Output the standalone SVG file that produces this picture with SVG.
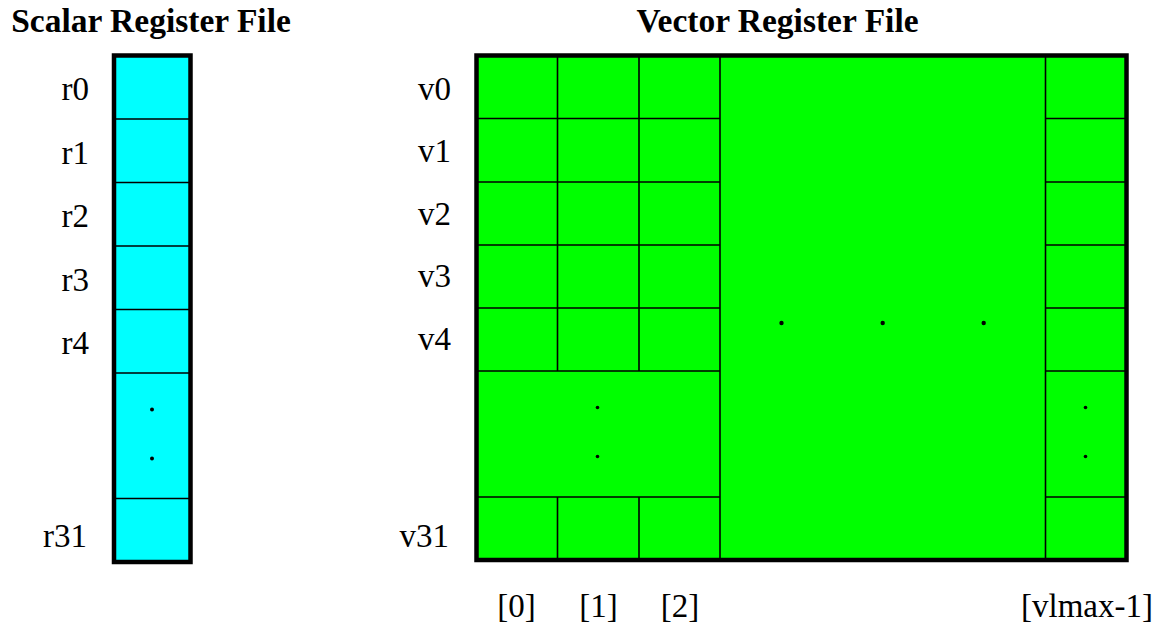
<svg xmlns="http://www.w3.org/2000/svg" width="1158" height="624" viewBox="0 0 1158 624">
<style>
.t{font-family:"Liberation Serif","Times New Roman",serif;font-size:33px;fill:#000}
.h{font-family:"Liberation Serif","Times New Roman",serif;font-size:33.5px;font-weight:bold;fill:#000}
.e{text-anchor:end}
.m{text-anchor:middle}
.thin{stroke:#000;stroke-width:1.6;fill:none}
.box{stroke:#000;stroke-width:4.5}
</style>
<rect width="1158" height="624" fill="#fff"/>
<text class="h m" x="151" y="32">Scalar Register File</text>
<text class="h m" x="777.5" y="32">Vector Register File</text>
<g id="scalar">
<rect class="box" x="114" y="55.5" width="76.5" height="506.5" fill="#00ffff"/>
<path class="thin" d="M114 119H190.5M114 182.5H190.5M114 246H190.5M114 309.5H190.5M114 373H190.5M114 498.5H190.5"/>
<circle cx="152" cy="409.5" r="2"/>
<circle cx="152" cy="458.5" r="2"/>
</g>
<g id="scalar-labels">
<text class="t e" x="89" y="100">r0</text>
<text class="t e" x="89" y="163.5">r1</text>
<text class="t e" x="89" y="227">r2</text>
<text class="t e" x="89" y="290.5">r3</text>
<text class="t e" x="89" y="354">r4</text>
<text class="t e" x="87" y="546.5">r31</text>
</g>
<g id="vector">
<rect class="box" x="476.5" y="55.5" width="650" height="504.5" fill="#00ff00"/>
<path class="thin" d="M476.5 118.5H720M476.5 182H720M476.5 245H720M476.5 308H720M476.5 371H720M476.5 497H720
M1045.5 118.5H1126.5M1045.5 182H1126.5M1045.5 245H1126.5M1045.5 308H1126.5M1045.5 371H1126.5M1045.5 497H1126.5
M557.5 55.5V371M639 55.5V371M557.5 497V560M639 497V560M720 55.5V560M1045.5 55.5V560"/>
<circle cx="597.5" cy="407.5" r="1.8"/>
<circle cx="597.5" cy="456.5" r="1.8"/>
<circle cx="1085.5" cy="407.5" r="1.8"/>
<circle cx="1085.5" cy="456.5" r="1.8"/>
<circle cx="781.5" cy="323" r="2.2"/>
<circle cx="882.7" cy="323" r="2.2"/>
<circle cx="983.7" cy="323" r="2.2"/>
</g>
<g id="vector-labels">
<text class="t e" x="451" y="100">v0</text>
<text class="t e" x="451" y="162">v1</text>
<text class="t e" x="451" y="225">v2</text>
<text class="t e" x="451" y="287">v3</text>
<text class="t e" x="451" y="350">v4</text>
<text class="t e" x="449" y="546.5">v31</text>
<text class="t m" x="516.5" y="616.5">[0]</text>
<text class="t m" x="598.5" y="616.5">[1]</text>
<text class="t m" x="680" y="616.5">[2]</text>
<text class="t m" x="1087" y="616.5">[vlmax-1]</text>
</g>
</svg>
